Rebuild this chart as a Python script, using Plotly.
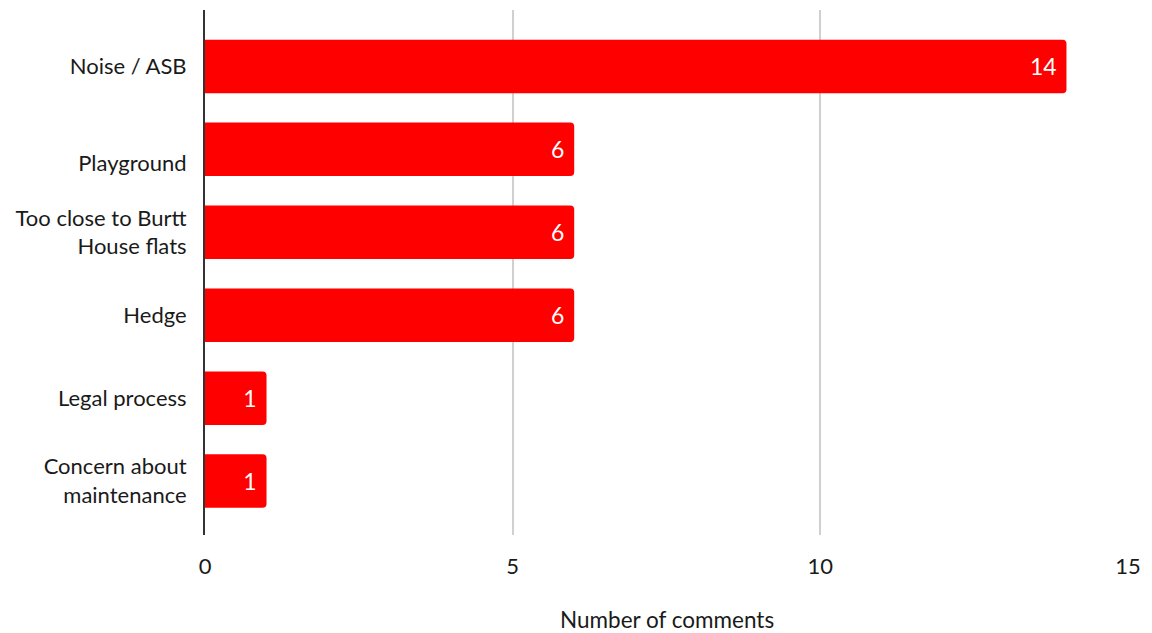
import plotly.graph_objects as go

# Comment themes and how many comments mentioned each
categories = [
    "Noise / ASB",
    "&nbsp;<br>Playground",
    "Too close to Burtt<br>House flats",
    "Hedge",
    "Legal process",
    "Concern about<br>maintenance",
]
counts = [14, 6, 6, 6, 1, 1]
x_ticks = [0, 5, 10, 15]
x_title = "Number of comments"

FONT = "Lato, Carlito, Calibri, sans-serif"
TEXT = "#1a1a1a"
positions = list(range(len(categories)))

fig = go.Figure(
    go.Bar(
        x=counts,
        y=positions,
        orientation="h",
        width=0.645,
        marker=dict(color="#FF0000", line=dict(width=0), cornerradius=4),
        text=[f"{v}&nbsp;" for v in counts],
        textposition="inside",
        insidetextanchor="end",
        textfont=dict(color="white", size=23, family=FONT),
        cliponaxis=False,
        hoverinfo="skip",
    )
)

fig.update_layout(
    width=1152,
    height=633,
    margin=dict(l=205, r=24, t=10, b=98, autoexpand=False),
    paper_bgcolor="white",
    plot_bgcolor="white",
    showlegend=False,
    font=dict(family=FONT, size=22, color=TEXT),
)

# Axis title placed below the tick labels
fig.add_annotation(
    text=x_title,
    xref="paper", yref="paper",
    x=0.5, y=0,
    xanchor="center", yanchor="middle",
    yshift=-84,
    showarrow=False,
    font=dict(size=22.5, family=FONT, color=TEXT),
)

fig.update_xaxes(
    range=[0, 15],
    tickvals=x_ticks,
    ticktext=[str(t) for t in x_ticks],
    showgrid=True,
    gridcolor="#d0d0d0",
    gridwidth=2,
    zeroline=False,
    showline=False,
    ticks="",
    automargin=False,
    ticklabelstandoff=16,
    tickfont=dict(size=22, family=FONT, color=TEXT),
)

fig.update_yaxes(
    range=[5.65, -0.68],
    tickvals=positions,
    ticktext=categories,
    showgrid=False,
    zeroline=False,
    showline=True,
    linecolor="#333333",
    linewidth=2,
    ticks="",
    automargin=False,
    ticklabelstandoff=12,
    tickfont=dict(size=22, family=FONT, color=TEXT),
)

fig.write_html("out.html")
